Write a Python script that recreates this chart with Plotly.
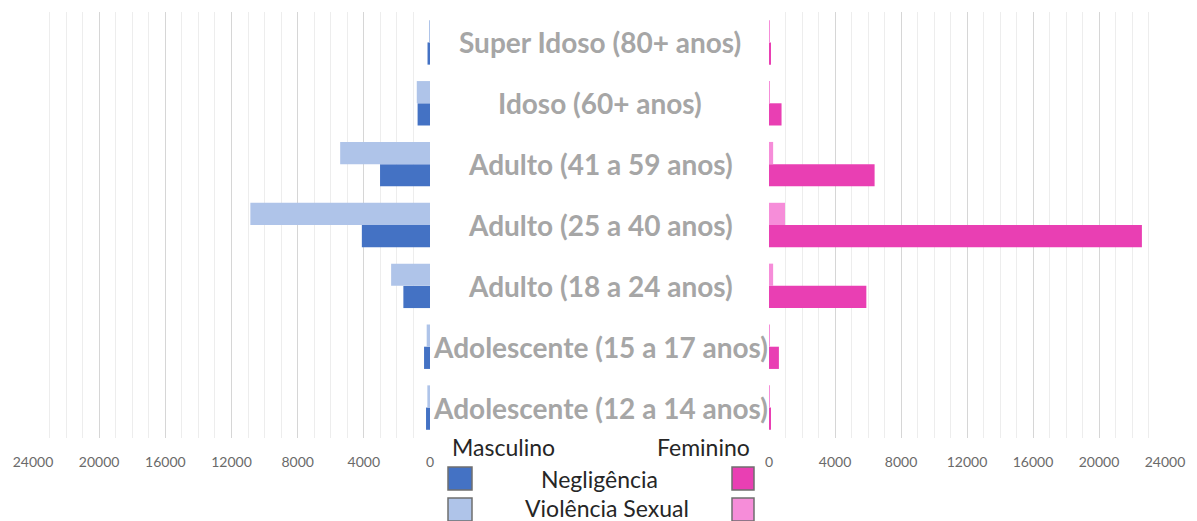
import plotly.graph_objects as go

# ---- data (bottom to top as drawn) ----
categories = [
    "Adolescente (12 a 14 anos)",
    "Adolescente (15 a 17 anos)",
    "Adulto (18 a 24 anos)",
    "Adulto (25 a 40 anos)",
    "Adulto (41 a 59 anos)",
    "Idoso (60+ anos)",
    "Super Idoso (80+ anos)",
]
masc_negligencia = [240, 360, 1610, 4120, 3020, 750, 150]
masc_violencia = [160, 200, 2350, 10860, 5430, 800, 60]
fem_negligencia = [80, 600, 5900, 22600, 6400, 760, 100]
fem_violencia = [30, 40, 250, 970, 250, 50, 60]
tick_values = [0, 4000, 8000, 12000, 16000, 20000, 24000]
tick_labels = [str(v) for v in tick_values]

C_BLUE = "#4472C4"
C_LBLUE = "#AFC4E9"
C_PINK = "#E93FB3"
C_LPINK = "#F68DD9"

# page body has an 8px default margin -> figure starts at (8, 8)
OFF = 8
W, H = 1197 - OFF, 521 - OFF
ML, MR, MT, MB = 33 - OFF, 32, 12 - OFF, 83
PW = W - ML - MR
PH = H - MT - MB


def px(x):
    return (x - OFF - ML) / PW


def py(y):
    return (H - MB - (y - OFF)) / PH


fig = go.Figure()
fig.add_trace(go.Bar(y=categories, x=masc_negligencia, orientation="h",
                     marker=dict(color=C_BLUE, line=dict(width=0)),
                     xaxis="x", yaxis="y", showlegend=False, name="Negligência"))
fig.add_trace(go.Bar(y=categories, x=masc_violencia, orientation="h",
                     marker=dict(color=C_LBLUE, line=dict(width=0)),
                     xaxis="x", yaxis="y", showlegend=False, name="Violência Sexual"))
fig.add_trace(go.Bar(y=categories, x=fem_negligencia, orientation="h",
                     marker=dict(color=C_PINK, line=dict(width=0)),
                     xaxis="x2", yaxis="y2", showlegend=False, name="Negligência"))
fig.add_trace(go.Bar(y=categories, x=fem_violencia, orientation="h",
                     marker=dict(color=C_LPINK, line=dict(width=0)),
                     xaxis="x2", yaxis="y2", showlegend=False, name="Violência Sexual"))

axis_common = dict(
    tickvals=tick_values, ticktext=tick_labels,
    showgrid=True, gridcolor="#d6d6d6", gridwidth=1,
    minor=dict(dtick=1000, showgrid=True, gridcolor="#ededed", gridwidth=1),
    zeroline=False, showline=False, ticks="",
    ticklabelstandoff=14,
    tickfont=dict(family="Lato", size=14, color="#6a6a6a"),
    fixedrange=True,
)

fig.update_layout(
    width=W, height=H,
    margin=dict(l=ML, r=MR, t=MT, b=MB),
    paper_bgcolor="white", plot_bgcolor="white",
    barmode="group", bargap=0.27, bargroupgap=0,
    xaxis=dict(domain=[0, px(430)], range=[24000, 0], **axis_common),
    xaxis2=dict(domain=[px(769), 1], range=[0, 24000], **axis_common),
    yaxis=dict(categoryorder="array", categoryarray=categories,
               showticklabels=False, showgrid=False, zeroline=False, fixedrange=True),
    yaxis2=dict(categoryorder="array", categoryarray=categories, anchor="x2",
                matches="y", showticklabels=False, showgrid=False, zeroline=False,
                fixedrange=True),
)

annotations = []
for c in categories:
    annotations.append(dict(
        x=px(600), y=c, xref="paper", yref="y", text="<b>%s</b>" % c,
        showarrow=False, xanchor="center", yanchor="middle",
        font=dict(family="Lato", size=28, color="#a6a6a6"),
    ))

legend_font = dict(family="Lato", size=23, color="#262626")
annotations += [
    dict(x=px(503), y=py(447), text="Masculino"),
    dict(x=px(703), y=py(447), text="Feminino"),
    dict(x=px(599), y=py(479), text="Negligência"),
    dict(x=px(607), y=py(508), text="Violência Sexual"),
]
for a in annotations[len(categories):]:
    a.update(xref="paper", yref="paper", showarrow=False,
             xanchor="center", yanchor="middle", font=legend_font)

fig.update_layout(annotations=annotations)

shapes = []
for (x0, x1, y0, y1, col) in [
    (448, 472, 467, 490, C_BLUE),
    (732, 754, 467, 490, C_PINK),
    (448, 472, 498, 521, C_LBLUE),
    (732, 754, 498, 521, C_LPINK),
]:
    shapes.append(dict(type="rect", xref="paper", yref="paper",
                       x0=px(x0), x1=px(x1), y0=py(y1), y1=py(y0),
                       fillcolor=col, line=dict(color="#6f6f6f", width=1.5)))
fig.update_layout(shapes=shapes)

fig.write_html("out.html")
